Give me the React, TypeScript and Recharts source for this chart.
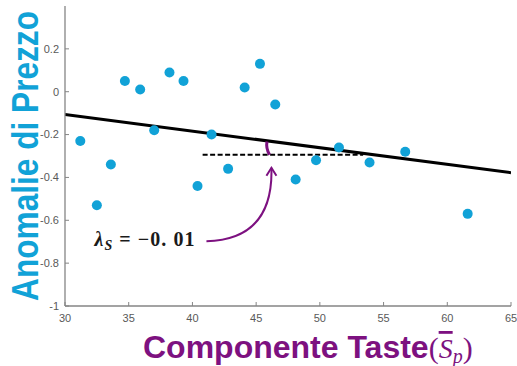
import React from 'react';
import { ComposedChart, Scatter, Line, XAxis, YAxis, ReferenceLine, Label } from 'recharts';

// scatter: taste component vs price anomaly
const tasteX = [31.2, 32.5, 33.6, 34.7, 35.9, 37.0, 38.2, 39.3, 40.4, 41.5, 42.8, 44.1, 45.3, 46.5, 48.1, 49.7, 51.5, 53.9, 56.7, 61.6];
const priceY = [-0.23, -0.53, -0.34, 0.05, 0.01, -0.18, 0.09, 0.05, -0.44, -0.2, -0.36, 0.02, 0.13, -0.06, -0.41, -0.32, -0.26, -0.33, -0.28, -0.57];

// fitted regression line
const fitX = [30, 65];
const fitY = [-0.106, -0.378];

// annotations (data units)
const dashX = [40.8, 53.4];
const dashY = -0.294;
const arcX = [46.05, 45.85];
const arcY = [-0.294, -0.232];
const arrowX = [41.1, 46.2];
const arrowY = [-0.698, -0.355];

const xTicks = [30, 35, 40, 45, 50, 55, 60, 65];
const yTicks = [-1, -0.8, -0.6, -0.4, -0.2, 0, 0.2];

const points = tasteX.map((x, i) => ({ x, y: priceY[i] }));
const fitLine = fitX.map((x, i) => ({ x, y: fitY[i] }));

const CYAN = '#11a2d7';
const PURPLE = '#7d1180';
const AXIS = '#858585';

const tickStyle = { fill: '#595959', fontSize: 11, fontFamily: 'Liberation Sans, Arial, sans-serif' };

const ArcShape = (p: any) => {
  const { x1, y1, x2, y2 } = p;
  const cx = (x1 + x2) / 2 - 2.5;
  const cy = (y1 + y2) / 2;
  return <path d={`M${x1},${y1} Q${cx},${cy} ${x2},${y2}`} fill="none" stroke={PURPLE} strokeWidth={3} />;
};

const ArrowShape = (p: any) => {
  const { x1, y1, x2, y2 } = p;
  return (
    <g>
      <path d={`M${x1},${y1} Q${x2 + 2},${y1 - 2} ${x2},${y2}`} fill="none" stroke={PURPLE} strokeWidth={2} />
      <path d={`M${x2 - 5},${y2 + 8} L${x2},${y2} L${x2 + 5},${y2 + 8}`} fill="none" stroke={PURPLE} strokeWidth={2} />
      <text
        x={x1 - 12}
        y={y1 + 5}
        textAnchor="end"
        fill="#1a1a1a"
        fontFamily="Liberation Serif, serif"
        fontWeight="bold"
        fontSize={20}
        textLength={100}
        lengthAdjust="spacing"
      >
        <tspan fontStyle="italic">λ</tspan>
        <tspan fontStyle="italic" fontSize={14} dy={4}>S</tspan>
        <tspan dy={-4}>{' = −0. 01'}</tspan>
      </text>
    </g>
  );
};

const YTitle = (props: any) => {
  const vb = props.viewBox || { x: 0, y: 6, width: 65, height: 300 };
  const cx = vb.x + 37.5;
  const cy = vb.y + vb.height / 2;
  // condensed bold face: squeeze along the reading direction
  return (
    <text
      x={0}
      y={0}
      transform={`translate(${cx},${cy}) rotate(-90) scale(0.855,1)`}
      textAnchor="middle"
      fill={CYAN}
      fontFamily="Liberation Sans, Arial, sans-serif"
      fontWeight="bold"
      fontSize={37}
    >
      Anomalie di Prezzo
    </text>
  );
};

const XTitle = (props: any) => {
  const vb = props.viewBox || { x: 65, y: 306, width: 446, height: 60 };
  return (
    <text x={vb.x + 78} y={vb.y + 52} fill={PURPLE} fontFamily="Liberation Sans, Arial, sans-serif" fontWeight="bold" fontSize={32}>
      Componente Taste
      <tspan fontFamily="Liberation Serif, serif" fontWeight="normal" fontSize={30}>(</tspan>
      <tspan fontFamily="Liberation Serif, serif" fontWeight="normal" fontStyle="italic" fontSize={28} style={{ textDecoration: 'overline' }}>S</tspan>
      <tspan fontFamily="Liberation Serif, serif" fontWeight="normal" fontStyle="italic" fontSize={20} dy={5}>p</tspan>
      <tspan fontFamily="Liberation Serif, serif" fontWeight="normal" fontSize={30} dy={-5}>)</tspan>
    </text>
  );
};

export default function App() {
  return (
    <div style={{ position: 'absolute', left: 0, top: 0, width: 517, height: 366, background: '#fff' }}>
      <ComposedChart width={517} height={366} margin={{ top: 6, right: 6, left: 0, bottom: 0 }}>
        <XAxis
          type="number"
          dataKey="x"
          domain={[30, 65]}
          ticks={xTicks}
          interval={0}
          allowDataOverflow
          height={60}
          tickSize={-4}
          tickMargin={12}
          stroke={AXIS}
          tick={tickStyle}
          axisLine={{ stroke: AXIS, strokeWidth: 1.3 }}
          tickLine={{ stroke: AXIS }}
        >
          <Label content={XTitle} />
        </XAxis>
        <YAxis
          type="number"
          dataKey="y"
          domain={[-1, 0.4]}
          ticks={yTicks}
          interval={0}
          allowDataOverflow
          width={65}
          tickSize={-4}
          tickMargin={10}
          stroke={AXIS}
          tick={tickStyle}
          axisLine={{ stroke: AXIS, strokeWidth: 1.3 }}
          tickLine={{ stroke: AXIS }}
        >
          <Label content={YTitle} />
        </YAxis>
        <Scatter data={points} fill={CYAN} isAnimationActive={false} shape={(p: any) => <circle cx={p.cx} cy={p.cy} r={5} fill={CYAN} />} />
        <ReferenceLine
          segment={[{ x: dashX[0], y: dashY }, { x: dashX[1], y: dashY }]}
          stroke="#000"
          strokeWidth={2}
          strokeDasharray="5 2.5"
        />
        <Line data={fitLine} dataKey="y" stroke="#000" strokeWidth={3} dot={false} activeDot={false} isAnimationActive={false} />
        <ReferenceLine segment={[{ x: arcX[0], y: arcY[0] }, { x: arcX[1], y: arcY[1] }]} shape={ArcShape} />
        <ReferenceLine segment={[{ x: arrowX[0], y: arrowY[0] }, { x: arrowX[1], y: arrowY[1] }]} shape={ArrowShape} />
      </ComposedChart>
    </div>
  );
}
